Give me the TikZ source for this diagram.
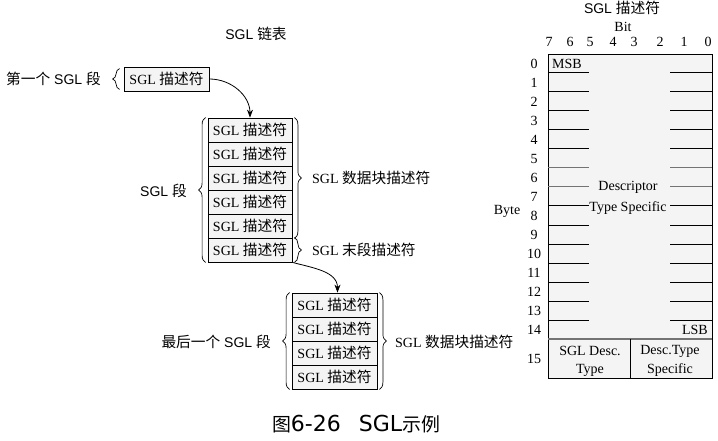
\documentclass[tikz,border=0pt]{standalone}
\usepackage{fontspec}
\setmainfont{Liberation Serif}
\newfontfamily\cjk{Noto Sans CJK SC}[Scale=1.05]
\newfontfamily\hei{Liberation Sans}
\newfontfamily\capfont{DejaVu Sans}
\usetikzlibrary{arrows.meta,decorations.pathreplacing}
\newcommand\zw[1]{{\cjk #1}}
\tikzset{
  desc/.style={draw, line width=0.8pt, fill=gray!9, minimum width=84pt, minimum height=24pt, inner sep=0pt, font=\fontsize{14}{16}\selectfont},
  lbl/.style={font=\fontsize{14}{16}\selectfont\hei, inner sep=0pt},
  num/.style={font=\fontsize{14}{16}\selectfont, inner sep=0pt},
  brc/.style={decorate, decoration={brace, amplitude=7pt}, line width=0.7pt},
  lnk/.style={-{Stealth[length=8pt,width=6pt]}, line width=0.8pt},
}
\begin{document}
\begin{tikzpicture}[x=1pt,y=-1pt]
\useasboundingbox (0,0) rectangle (718,441);

% SGL 链表
\node[lbl] (ttl) at (256,34) {SGL \zw{链表}};

% first segment
\node[desc, minimum width=85pt] (c1) at (166.5,79) {SGL \zw{描述符}};
\node[lbl, anchor=east] (l1) at (101,79) {\zw{第一个} SGL \zw{段}};
\draw[brc] ([xshift=-4pt,yshift=2pt]c1.south west) -- ([xshift=-4pt,yshift=-2pt]c1.north west);

% SGL segment
\foreach \i in {1,...,6}
  \node[desc] (s\i) at (250,{106+24*\i}) {SGL \zw{描述符}};
\draw[brc] ([xshift=-2pt]s6.south west) -- ([xshift=-2pt]s1.north west);
\draw[brc] ([xshift=2pt]s1.north east) -- ([xshift=2pt]s5.south east);
\draw[brc] ([xshift=2pt]s6.north east) -- ([xshift=2pt]s6.south east);
\node[lbl, anchor=east] (l2) at (187,191) {SGL \zw{段}};
\node[num, anchor=west] (l3) at (312,178) {SGL \zw{数据块描述符}};
\node[num, anchor=west] (l4) at (312,250) {SGL \zw{末段描述符}};

% last segment
\foreach \i in {1,...,4}
  \node[desc, minimum width=85pt] (t\i) at (334.5,{281+24*\i}) {SGL \zw{描述符}};
\draw[brc] ([xshift=-2pt]t4.south west) -- ([xshift=-2pt]t1.north west);
\draw[brc] ([xshift=2pt]t1.north east) -- ([xshift=2pt]t4.south east);
\node[lbl, anchor=east] (l5) at (271,342) {\zw{最后一个} SGL \zw{段}};
\node[num, anchor=west] (l6) at (395,342) {SGL \zw{数据块描述符}};

% links
\draw[lnk] (c1.east) to[out=0,in=90] (s1.north);
\draw[lnk] (s6.south east) to[out=-15,in=90] ([xshift=3pt]t1.north);

% SGL 描述符 layout
\node[lbl] (hd) at (622,8) {SGL \zw{描述符}};
\node[num] (bit) at (623,27) {Bit};
\foreach \b/\x in {7/549,6/570,5/590,4/613,3/634,2/660,1/684,0/708}
  \node[num] at (\x,42) {\b};
\draw[fill=gray!9, line width=0.8pt] (548,54) rectangle (712,378);
\foreach \k in {1,...,14} {
  \ifnum\k=6 \def\lc{black!55}\else\ifnum\k=7 \def\lc{black!55}\else\def\lc{black}\fi\fi
  \draw[\lc, line width=1pt] (548,{54+19*\k}) -- (589,{54+19*\k});
  \draw[\lc, line width=1pt] (670,{54+19*\k}) -- (712,{54+19*\k});
}
\draw[black!55, line width=1.4pt] (548,339) -- (712,339);
\draw[line width=0.8pt] (630,339) -- (630,378);
\foreach \k in {0,...,14}
  \node[num] at (534,{63.5+19*\k}) {\k};
\node[num] at (534,358.5) {15};
\node[num] (byte) at (507,211) {Byte};
\node[num, anchor=west] (msb) at (552,63.5) {MSB};
\node[num, anchor=east] (lsb) at (708,329.5) {LSB};
\node[num] (dsc) at (628,187) {Descriptor};
\node[num] (tsp) at (628,208) {Type Specific};
\node[num] (f1) at (590,351) {SGL Desc.};
\node[num] (f2) at (590,370) {Type};
\node[num] (f3) at (670,351) {Desc.Type};
\node[num] (f4) at (670,370) {Specific};

% caption
\node[inner sep=0pt] (cap) at (356,424) {{\cjk\fontsize{18}{20}\selectfont 图}{\capfont\fontsize{22}{24}\selectfont 6-26\hspace{18pt}SGL}{\cjk\fontsize{18}{20}\selectfont 示例}};
\end{tikzpicture}
\end{document}
